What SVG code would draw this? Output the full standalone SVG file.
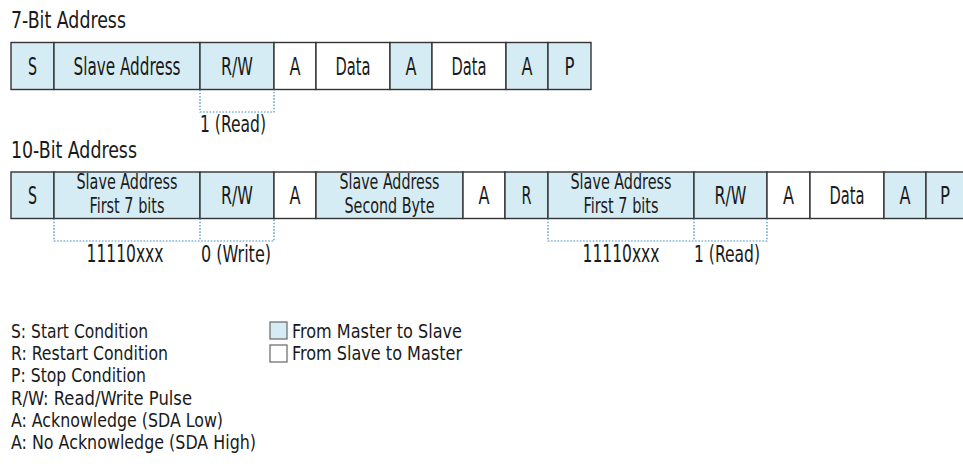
<svg xmlns="http://www.w3.org/2000/svg" width="963" height="474" viewBox="0 0 963 474">
<style>
  text { font-family: "Liberation Sans Narrow", "DejaVu Sans Condensed", "Liberation Sans", sans-serif; fill: #1a1a1a; }
  .t { font-size: 23px; }
  .c { font-size: 24px; text-anchor: middle; }
  .c2 { font-size: 21px; text-anchor: middle; }
  .lg { font-size: 20px; }
  .m { fill: #d6ecf4; stroke: #333; stroke-width: 1.4; }
  .s { fill: #ffffff; stroke: #333; stroke-width: 1.4; }
  .br { fill: none; stroke: #3d8fc2; stroke-width: 1.2; stroke-dasharray: 1.6 1.6; }
  .lbm { fill: #d6ecf4; stroke: #666; stroke-width: 1.2; }
  .lbs { fill: #ffffff; stroke: #666; stroke-width: 1.2; }
</style>

<text id="title7" class="t" x="11" y="27.5" textLength="115" lengthAdjust="spacingAndGlyphs">7-Bit Address</text>

<g id="row7">
  <g id="r7-s"><rect class="m" x="11" y="42.5" width="43" height="47"/><text class="c" x="32.5" y="74.5" textLength="9" lengthAdjust="spacingAndGlyphs">S</text></g>
  <g id="r7-addr"><rect class="m" x="54" y="42.5" width="146" height="47"/><text class="c" x="127" y="74.5" textLength="107" lengthAdjust="spacingAndGlyphs">Slave Address</text></g>
  <g id="r7-rw"><rect class="m" x="200" y="42.5" width="74" height="47"/><text class="c" x="237" y="74.5" textLength="32" lengthAdjust="spacingAndGlyphs">R/W</text></g>
  <g id="r7-a1"><rect class="s" x="274" y="42.5" width="42" height="47"/><text class="c" x="295" y="74.5" textLength="11" lengthAdjust="spacingAndGlyphs">A</text></g>
  <g id="r7-d1"><rect class="s" x="316" y="42.5" width="74" height="47"/><text class="c" x="353" y="74.5" textLength="35" lengthAdjust="spacingAndGlyphs">Data</text></g>
  <g id="r7-a2"><rect class="m" x="390" y="42.5" width="42" height="47"/><text class="c" x="411" y="74.5" textLength="11" lengthAdjust="spacingAndGlyphs">A</text></g>
  <g id="r7-d2"><rect class="s" x="432" y="42.5" width="74" height="47"/><text class="c" x="469" y="74.5" textLength="35" lengthAdjust="spacingAndGlyphs">Data</text></g>
  <g id="r7-a3"><rect class="m" x="506" y="42.5" width="42" height="47"/><text class="c" x="527" y="74.5" textLength="11" lengthAdjust="spacingAndGlyphs">A</text></g>
  <g id="r7-p"><rect class="m" x="548" y="42.5" width="43" height="47"/><text class="c" x="569.5" y="74.5" textLength="10" lengthAdjust="spacingAndGlyphs">P</text></g>
</g>

<text id="title10" class="t" x="11" y="158" textLength="126" lengthAdjust="spacingAndGlyphs">10-Bit Address</text>

<g id="row10">
  <g id="r10-s"><rect class="m" x="11" y="172" width="43" height="46.5"/><text class="c" x="32.5" y="204" textLength="9" lengthAdjust="spacingAndGlyphs">S</text></g>
  <g id="r10-addr1"><rect class="m" x="54" y="172" width="146" height="46.5"/><text class="c2" x="127" y="189" textLength="101" lengthAdjust="spacingAndGlyphs">Slave Address</text><text class="c2" x="127" y="213" textLength="75" lengthAdjust="spacingAndGlyphs">First 7 bits</text></g>
  <g id="r10-rw1"><rect class="m" x="200" y="172" width="74" height="46.5"/><text class="c" x="237" y="204" textLength="32" lengthAdjust="spacingAndGlyphs">R/W</text></g>
  <g id="r10-a1"><rect class="s" x="274" y="172" width="42" height="46.5"/><text class="c" x="295" y="204" textLength="11" lengthAdjust="spacingAndGlyphs">A</text></g>
  <g id="r10-addr2"><rect class="m" x="316" y="172" width="147" height="46.5"/><text class="c2" x="389.5" y="189" textLength="100" lengthAdjust="spacingAndGlyphs">Slave Address</text><text class="c2" x="389.5" y="213" textLength="90" lengthAdjust="spacingAndGlyphs">Second Byte</text></g>
  <g id="r10-a2"><rect class="s" x="463" y="172" width="42" height="46.5"/><text class="c" x="484" y="204" textLength="11" lengthAdjust="spacingAndGlyphs">A</text></g>
  <g id="r10-r"><rect class="m" x="505" y="172" width="43" height="46.5"/><text class="c" x="526.5" y="204" textLength="10" lengthAdjust="spacingAndGlyphs">R</text></g>
  <g id="r10-addr3"><rect class="m" x="548" y="172" width="146" height="46.5"/><text class="c2" x="621" y="189" textLength="101" lengthAdjust="spacingAndGlyphs">Slave Address</text><text class="c2" x="621" y="213" textLength="75" lengthAdjust="spacingAndGlyphs">First 7 bits</text></g>
  <g id="r10-rw2"><rect class="m" x="694" y="172" width="73" height="46.5"/><text class="c" x="730.5" y="204" textLength="32" lengthAdjust="spacingAndGlyphs">R/W</text></g>
  <g id="r10-a3"><rect class="s" x="767" y="172" width="43" height="46.5"/><text class="c" x="788.5" y="204" textLength="11" lengthAdjust="spacingAndGlyphs">A</text></g>
  <g id="r10-data"><rect class="s" x="810" y="172" width="74" height="46.5"/><text class="c" x="847" y="204" textLength="35" lengthAdjust="spacingAndGlyphs">Data</text></g>
  <g id="r10-a4"><rect class="m" x="884" y="172" width="42" height="46.5"/><text class="c" x="905" y="204" textLength="11" lengthAdjust="spacingAndGlyphs">A</text></g>
  <g id="r10-p"><rect class="m" x="926" y="172" width="43" height="46.5"/><text class="c" x="945" y="204" textLength="10" lengthAdjust="spacingAndGlyphs">P</text></g>
</g>

<g id="connectors">
  <path class="br" d="M200,89.5 V112 H274 V89.5"/>
  <path class="br" d="M54,218.5 V241 H274 V218.5 M200,218.5 V241"/>
  <path class="br" d="M548,218.5 V241 H767 V218.5 M694,218.5 V241"/>
</g>

<g id="bit-labels">
  <text class="t" x="200" y="131.5" textLength="66" lengthAdjust="spacingAndGlyphs">1 (Read)</text>
  <text class="c" x="125" y="262" textLength="77" lengthAdjust="spacingAndGlyphs">11110xxx</text>
  <text class="t" x="201" y="262" textLength="70" lengthAdjust="spacingAndGlyphs">0 (Write)</text>
  <text class="c" x="621" y="262" textLength="77" lengthAdjust="spacingAndGlyphs">11110xxx</text>
  <text class="t" x="694" y="262" textLength="66" lengthAdjust="spacingAndGlyphs">1 (Read)</text>
</g>

<g id="legend-abbrev">
  <text class="lg" x="11" y="338" textLength="137" lengthAdjust="spacingAndGlyphs">S: Start Condition</text>
  <text class="lg" x="11" y="360.2" textLength="157" lengthAdjust="spacingAndGlyphs">R: Restart Condition</text>
  <text class="lg" x="11" y="382.4" textLength="135" lengthAdjust="spacingAndGlyphs">P: Stop Condition</text>
  <text class="lg" x="11" y="404.6" textLength="181" lengthAdjust="spacingAndGlyphs">R/W: Read/Write Pulse</text>
  <text class="lg" x="11" y="426.8" textLength="212" lengthAdjust="spacingAndGlyphs">A: Acknowledge (SDA Low)</text>
  <text class="lg" x="11" y="449" textLength="245" lengthAdjust="spacingAndGlyphs">A: No Acknowledge (SDA High)</text>
</g>

<g id="legend-colors">
  <g id="key-master"><rect class="lbm" x="270" y="322" width="17" height="17"/><text class="lg" x="292" y="338" textLength="170" lengthAdjust="spacingAndGlyphs">From Master to Slave</text></g>
  <g id="key-slave"><rect class="lbs" x="270" y="345" width="17" height="17"/><text class="lg" x="292" y="360.2" textLength="170" lengthAdjust="spacingAndGlyphs">From Slave to Master</text></g>
</g>
</svg>
